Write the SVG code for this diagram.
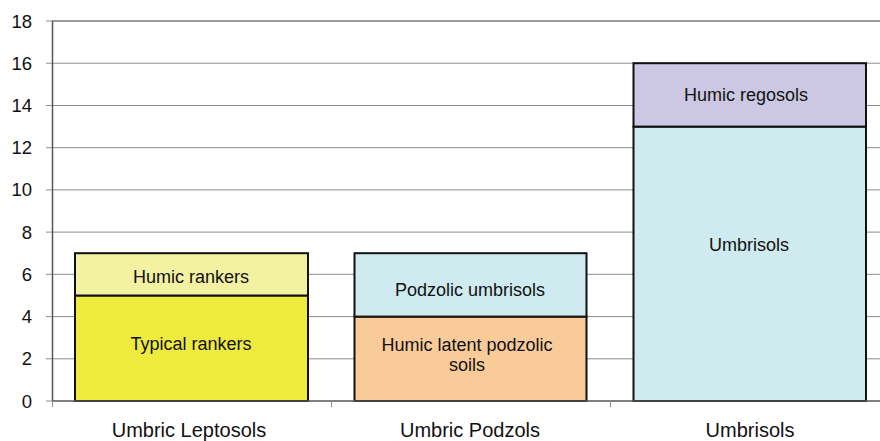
<svg xmlns="http://www.w3.org/2000/svg" width="880" height="441" viewBox="0 0 880 441">
<style>
.grid{stroke:#8c8c8c;stroke-width:1}
.axis{stroke:#555;stroke-width:1.5}
.bar{stroke:#111;stroke-width:2}
.yl{font-family:"Liberation Sans",Arial,sans-serif;font-size:18.5px;fill:#111;text-anchor:end}
.bl{font-family:"Liberation Sans",Arial,sans-serif;font-size:18px;fill:#111;text-anchor:middle}
.cl{font-family:"Liberation Sans",Arial,sans-serif;font-size:20px;fill:#111;text-anchor:middle}
</style>
<rect width="880" height="441" fill="#fff"/>
<g id="gridlines">
<line class="grid" x1="52" y1="21" x2="880" y2="21" style="stroke:#777;stroke-width:1.5"/>
<line class="grid" x1="52" y1="63.2" x2="880" y2="63.2"/>
<line class="grid" x1="52" y1="105.5" x2="880" y2="105.5"/>
<line class="grid" x1="52" y1="147.7" x2="880" y2="147.7"/>
<line class="grid" x1="52" y1="189.9" x2="880" y2="189.9"/>
<line class="grid" x1="52" y1="232.1" x2="880" y2="232.1"/>
<line class="grid" x1="52" y1="274.3" x2="880" y2="274.3"/>
<line class="grid" x1="52" y1="316.6" x2="880" y2="316.6"/>
<line class="grid" x1="52" y1="358.8" x2="880" y2="358.8"/>
</g>
<g id="y-axis">
<line class="axis" x1="52.5" y1="21" x2="52.5" y2="401"/>
<g class="grid">
<line x1="46" y1="21" x2="52" y2="21"/>
<line x1="46" y1="63.2" x2="52" y2="63.2"/>
<line x1="46" y1="105.5" x2="52" y2="105.5"/>
<line x1="46" y1="147.7" x2="52" y2="147.7"/>
<line x1="46" y1="189.9" x2="52" y2="189.9"/>
<line x1="46" y1="232.1" x2="52" y2="232.1"/>
<line x1="46" y1="274.3" x2="52" y2="274.3"/>
<line x1="46" y1="316.6" x2="52" y2="316.6"/>
<line x1="46" y1="358.8" x2="52" y2="358.8"/>
<line x1="46" y1="401" x2="52" y2="401"/>
</g>
<text class="yl" x="32" y="27.5">18</text>
<text class="yl" x="32" y="69.7">16</text>
<text class="yl" x="32" y="112">14</text>
<text class="yl" x="32" y="154.2">12</text>
<text class="yl" x="32" y="196.4">10</text>
<text class="yl" x="32" y="238.6">8</text>
<text class="yl" x="32" y="280.8">6</text>
<text class="yl" x="32" y="323.1">4</text>
<text class="yl" x="32" y="365.3">2</text>
<text class="yl" x="32" y="407.5">0</text>
</g>
<g id="bar-umbric-leptosols">
<rect class="bar" x="75" y="295.5" width="233" height="105.5" fill="#EEEA3E"/>
<rect class="bar" x="75" y="253.2" width="233" height="42.3" fill="#F3F2A2"/>
<text class="bl" x="191" y="283">Humic rankers</text>
<text class="bl" x="191" y="349.5">Typical rankers</text>
</g>
<g id="bar-umbric-podzols">
<rect class="bar" x="354.5" y="316.6" width="232" height="84.4" fill="#F9CB99"/>
<rect class="bar" x="354.5" y="253.2" width="232" height="63.4" fill="#CFEBEF"/>
<text class="bl" x="470" y="295.5">Podzolic umbrisols</text>
<text class="bl" x="467" y="351">Humic latent podzolic</text>
<text class="bl" x="467" y="371">soils</text>
</g>
<g id="bar-umbrisols">
<rect class="bar" x="633.5" y="126.6" width="232.5" height="274.4" fill="#CFEBEF"/>
<rect class="bar" x="633.5" y="63.2" width="232.5" height="63.4" fill="#CCC8E4"/>
<text class="bl" x="746" y="100.5">Humic regosols</text>
<text class="bl" x="749" y="251">Umbrisols</text>
</g>
<g id="x-axis">
<line class="axis" x1="52" y1="401" x2="880" y2="401"/>
<g class="grid">
<line x1="52.5" y1="401" x2="52.5" y2="407"/>
<line x1="331.5" y1="401" x2="331.5" y2="407"/>
<line x1="610.5" y1="401" x2="610.5" y2="407"/>
</g>
<text class="cl" x="189" y="437">Umbric Leptosols</text>
<text class="cl" x="470" y="437">Umbric Podzols</text>
<text class="cl" x="750" y="437">Umbrisols</text>
</g>
</svg>
